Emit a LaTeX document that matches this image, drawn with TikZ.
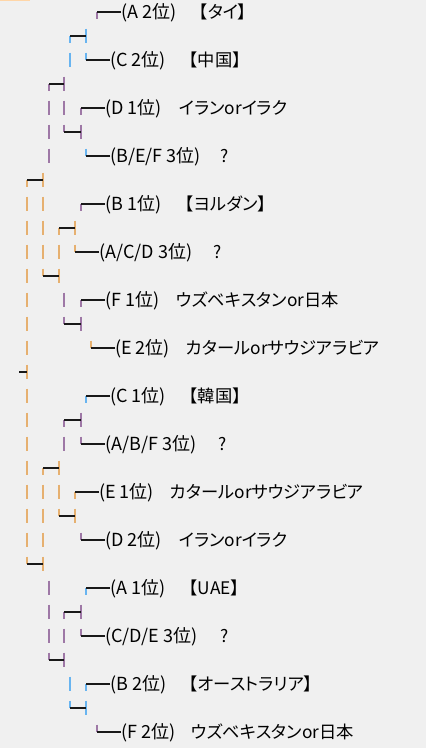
\documentclass[tikz,border=0pt]{standalone}
\usepackage{fontspec}
\usepackage{tikz}
\usetikzlibrary{positioning}
\newfontfamily\jpfont[RawFeature={+palt}]{Noto Sans CJK JP}
\definecolor{PaperGray}{RGB}{240,240,240}
\definecolor{TabOrange}{RGB}{255,214,168}
\definecolor{IndentOrange}{RGB}{230,176,112}
\definecolor{IndentPurple}{RGB}{158,120,166}
\definecolor{IndentBlue}{RGB}{104,180,240}
\definecolor{DarkText}{RGB}{0,0,0}

% pieces of one text line: full bar, lower half, upper half
\newcommand{\vfull}[3]{\draw[#1] (#2,#3-0.31) -- (#2,#3+0.31);}
\newcommand{\vdown}[3]{\draw[#1] (#2,#3) -- (#2,#3+0.31);}
\newcommand{\vup}[3]{\draw[#1] (#2,#3-0.31) -- (#2,#3);}

\begin{document}
\begin{tikzpicture}[x=1pt, y=-24pt,
    team/.style={anchor=west, inner sep=0pt, font=\jpfont\fontsize{18}{18}\selectfont, text=DarkText, text height=15pt, text depth=3pt},
    pick/.style={team, font=\jpfont\fontsize{17.3}{18}\selectfont},
    rule/.style={line width=1.1pt, black!90},
    obar/.style={line width=1.8pt, IndentOrange},
    pbar/.style={line width=1.8pt, IndentPurple},
    bbar/.style={line width=1.8pt, IndentBlue},
]
\fill[PaperGray] (0,0.5) rectangle (426,31.6667);
\useasboundingbox (0,0.5) rectangle (426,31.6667);
\fill[TabOrange] (0,0.5) rectangle (30,0.56);

% indent bars
\foreach \r in {9,...,23} {\vfull{obar}{27}{\r}}
\foreach \x/\r in {43/8, 43/9, 43/10, 43/11, 43/21, 43/22, 43/23, 43/24, 59/11, 59/12, 59/20, 59/21, 75/10, 75/22}
    {\vfull{obar}{\x}{\r}}
\foreach \x/\r in {27/8, 43/20, 59/10, 75/21} {\vdown{obar}{\x}{\r}}
\foreach \x/\r in {27/24, 43/12, 59/22, 75/11, 91/15} {\vup{obar}{\x}{\r}}

\foreach \x/\r in {49/5, 49/6, 49/7, 49/25, 49/26, 49/27, 64/4, 64/5, 64/13, 64/19, 64/27, 64/28, 81/6, 81/14, 81/18, 81/26}
    {\vfull{pbar}{\x}{\r}}
\foreach \x/\r in {49/4, 64/18, 64/26, 81/5, 81/9, 81/13, 97/1} {\vdown{pbar}{\x}{\r}}
\foreach \x/\r in {49/28, 64/6, 64/14, 81/19, 81/23, 81/27, 97/31} {\vup{pbar}{\x}{\r}}

\foreach \x/\r in {70/3, 70/29, 86/2, 86/30} {\vfull{bbar}{\x}{\r}}
\foreach \x/\r in {70/2, 86/17, 86/25, 86/29} {\vdown{bbar}{\x}{\r}}
\foreach \x/\r in {70/30, 86/3, 86/7} {\vup{bbar}{\x}{\r}}

% joins between rounds
\foreach \r/\a/\b in {2/70/86, 4/49/64, 6/64/81, 8/27/43, 10/59/75, 12/43/59, 14/64/81, 16/19/27, 18/64/81, 20/43/59, 22/59/75, 24/27/43, 26/64/81, 28/49/64, 30/70/86}
    \draw[rule] (\a,\r) -- (\b,\r);

% teams
\node[team] (a2) at (121,1) {(A 2位)};
\node[pick] (a2p) at (199,1) {【タイ】};

\node[team] (c2) at (110,3) {(C 2位)};
\node[pick] (c2p) at (189,3) {【中国】};

\node[team] (d1) at (105,5) {(D 1位)};
\node[pick] (d1p) at (179,5) {イランorイラク};

\node[team] (bef3) at (110,7) {(B/E/F 3位)};
\node[pick] (bef3p) at (220,7) {?};

\node[team] (b1) at (105,9) {(B 1位)};
\node[pick] (b1p) at (185,9) {【ヨルダン】};

\node[team] (acd3) at (99,11) {(A/C/D 3位)};
\node[pick] (acd3p) at (213,11) {?};

\node[team] (f1) at (105,13) {(F 1位)};
\node[pick] (f1p) at (176,13) {ウズベキスタンor日本};

\node[team] (e2) at (115,15) {(E 2位)};
\node[pick] (e2p) at (186,15) {カタールorサウジアラビア};

\node[team] (c1) at (110,17) {(C 1位)};
\node[pick] (c1p) at (189,17) {【韓国】};

\node[team] (abf3) at (105,19) {(A/B/F 3位)};
\node[pick] (abf3p) at (218,19) {?};

\node[team] (e1) at (99,21) {(E 1位)};
\node[pick] (e1p) at (170,21) {カタールorサウジアラビア};

\node[team] (d2) at (105,23) {(D 2位)};
\node[pick] (d2p) at (179,23) {イランorイラク};

\node[team] (a1) at (110,25) {(A 1位)};
\node[pick] (a1p) at (189,25) {【UAE】};

\node[team] (cde3) at (105,27) {(C/D/E 3位)};
\node[pick] (cde3p) at (220,27) {?};

\node[team] (b2) at (110,29) {(B 2位)};
\node[pick] (b2p) at (189,29) {【オーストラリア】};

\node[team] (f2) at (121,31) {(F 2位)};
\node[pick] (f2p) at (191,31) {ウズベキスタンor日本};

% leaders into the team labels
\foreach \n in {a2, c2, d1, bef3, b1, acd3, f1, e2, c1, abf3, e1, d2, a1, cde3, b2, f2}
    \draw[rule] (\n.west) -- ++(-24,0);
\end{tikzpicture}
\end{document}
